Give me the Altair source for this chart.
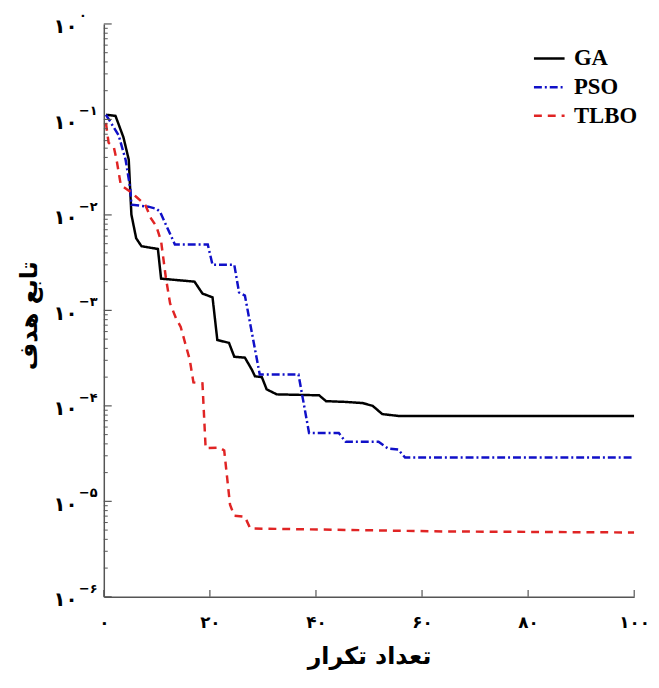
import altair as alt
import pandas as pd

# ---- data ----
ga_x = [0.4, 2.2, 3.7, 4.7, 5.2, 6.1, 7.1, 10.2, 10.8, 17.1, 18.6, 20.5, 21.4, 23.6, 24.6,
        26.6, 27.9, 28.5, 29.8, 30.7, 32.6, 40.6, 41.9, 45.6, 48.8, 50.7, 52.5, 55.5, 100]
ga_y = [0.112, 0.109, 0.065, 0.038, 0.0101, 0.0057, 0.0047, 0.0044, 0.00215, 0.0020,
        0.0015, 0.00137, 0.00049, 0.000457, 0.000327, 0.00032, 0.00024, 0.000204, 0.0002,
        0.000149, 0.000132, 0.000129, 0.000112, 0.000110, 0.000107, 0.0001, 8.2e-5, 7.85e-5, 7.85e-5]

pso_x = [0.4, 2.8, 4.1, 5.0, 5.2, 8.4, 9.9, 10.6, 13.4, 19.6, 20.5, 24.6, 25.5, 26.6,
         29.4, 36.7, 38.7, 44.3, 45.6, 51.8, 53.6, 55.5, 56.8, 100]
pso_y = [0.112, 0.068, 0.038, 0.0188, 0.0128, 0.0122, 0.0116, 0.0108, 0.0049, 0.0049,
         0.0030, 0.0030, 0.00154, 0.00143, 0.000213, 0.000213, 5.2e-5, 5.2e-5, 4.2e-5,
         4.2e-5, 3.57e-5, 3.49e-5, 2.88e-5, 2.88e-5]

tlbo_x = [0.4, 0.9, 1.9, 2.4, 3.2, 5.0, 6.1, 7.8, 8.9, 9.9, 10.8, 11.7, 12.5, 13.6, 14.5,
          16.2, 16.9, 18.6, 19.2, 21.8, 22.7, 23.8, 24.6, 26.6, 27.6, 64.2, 100]
tlbo_y = [0.092, 0.057, 0.051, 0.038, 0.0206, 0.0175, 0.0155, 0.0128, 0.0092, 0.0076,
          0.0053, 0.0022, 0.00118, 0.00083, 0.00067, 0.000305, 0.000176, 0.000172, 3.6e-5,
          3.66e-5, 3.41e-5, 9.2e-6, 7.08e-6, 6.9e-6, 5.2e-6, 4.84e-6, 4.72e-6]

series_names = ["GA", "PSO", "TLBO"]
series_colors = ["#000000", "#1010c8", "#e02424"]
series_dashes = [[1, 0], [8, 3, 2, 3], [8, 6]]

x_ticks = [0, 20, 40, 60, 80, 100]
x_tick_labels = ["۰", "۲۰", "۴۰", "۶۰", "۸۰", "۱۰۰"]
y_ticks = [1e-6, 1e-5, 1e-4, 1e-3, 1e-2, 1e-1, 1]
y_exponents = ["−۶", "−۵", "−۴", "−۳", "−۲", "−۱", "۰"]
y_minor = [k * 10.0 ** d for d in range(-6, 0) for k in range(2, 10)]

x_title = "تعداد تکرار"
y_title = "تابع هدف"

# ---- tables ----
rows = []
for name, xs, ys in [("GA", ga_x, ga_y), ("PSO", pso_x, pso_y), ("TLBO", tlbo_x, tlbo_y)]:
    for i, (a, b) in enumerate(zip(xs, ys)):
        rows.append({"series": name, "iter": a, "value": b, "order": i})
df = pd.DataFrame(rows)

exp_df = pd.DataFrame({"value": y_ticks, "e": y_exponents})
ymaj_df = pd.DataFrame({"value": y_ticks})
ymin_df = pd.DataFrame({"value": y_minor})
xt_df = pd.DataFrame({"iter": x_ticks})

W, H = 537, 580
persian = "DejaVu Sans"

label_map = "{" + ",".join(f"'{t}':'{l}'" for t, l in zip(x_ticks, x_tick_labels)) + "}"

xscale = alt.Scale(domain=[0, 100], nice=False, zero=False)
yscale = alt.Scale(type="log", domain=[1e-6, 1], nice=False)

xaxis = alt.Axis(
    values=x_ticks, labelExpr=f"{label_map}[datum.value]", ticks=False, grid=False,
    labelFont=persian, labelFontWeight="bold", labelFontSize=17, labelBaseline="middle",
    labelPadding=26, labelColor="#000", domainColor="#555", domainWidth=1.5,
    title=x_title, titleFont=persian, titleFontWeight="bold", titleFontSize=24,
    titleColor="#000", titleX=W / 2, titleY=60, titleBaseline="middle",
    labelFlush=False, labelOverlap=False)
yaxis = alt.Axis(
    values=y_ticks, labelExpr="'۱۰'", ticks=False, grid=False,
    labelFont=persian, labelFontWeight="bold", labelFontSize=20, labelBaseline="middle",
    labelAlign="right", labelPadding=27, labelOffset=3, labelColor="#000",
    domainColor="#555", domainWidth=1.5, title=y_title, titleFont=persian,
    titleFontWeight="bold", titleFontSize=24, titleColor="#000", titleX=-75,
    titleY=H / 2 + 5, titleAlign="center", titleBaseline="middle", labelFlush=False,
    labelOverlap=False)

legend = alt.Legend(
    title=None, orient="none", legendX=434, legendY=18, symbolType="stroke",
    symbolSize=961, symbolStrokeWidth=2.5, labelFont="Liberation Serif",
    labelFontWeight="bold", labelFontSize=23, labelColor="#000", rowPadding=0,
    padding=0, labelOffset=8,
)

lines = alt.Chart(df).mark_line(strokeWidth=2.5, clip=True).encode(
    x=alt.X("iter:Q", scale=xscale, axis=xaxis),
    y=alt.Y("value:Q", scale=yscale, axis=yaxis),
    color=alt.Color("series:N", scale=alt.Scale(domain=series_names, range=series_colors), legend=legend),
    strokeDash=alt.StrokeDash("series:N", scale=alt.Scale(domain=series_names, range=series_dashes), legend=legend),
    order="order:Q",
)

exps = alt.Chart(exp_df).mark_text(
    font=persian, fontWeight="bold", fontSize=13, align="left", baseline="middle",
    dy=-8, color="#000",
).encode(x=alt.value(-25), y=alt.Y("value:Q", scale=yscale, axis=yaxis), text="e:N")

ymaj = alt.Chart(ymaj_df).mark_rule(color="#555", strokeWidth=1.2).encode(
    y=alt.Y("value:Q", scale=yscale, axis=yaxis), x=alt.value(0), x2=alt.value(8))
ymin = alt.Chart(ymin_df).mark_rule(color="#555", strokeWidth=1).encode(
    y=alt.Y("value:Q", scale=yscale, axis=yaxis), x=alt.value(0), x2=alt.value(4))
xtk = alt.Chart(xt_df).mark_rule(color="#555", strokeWidth=1.2).encode(
    x=alt.X("iter:Q", scale=xscale, axis=xaxis), y=alt.value(H), y2=alt.value(H - 7))

chart = alt.layer(lines, ymin, ymaj, xtk, exps).properties(
    width=W, height=H,
    autosize=alt.AutoSizeParams(type="none"),
    padding={"left": 97, "top": 12, "right": 17, "bottom": 76},
    background="white",
).configure_view(stroke=None)

chart.save("out.html", embed_options={"renderer": "svg", "actions": False})
